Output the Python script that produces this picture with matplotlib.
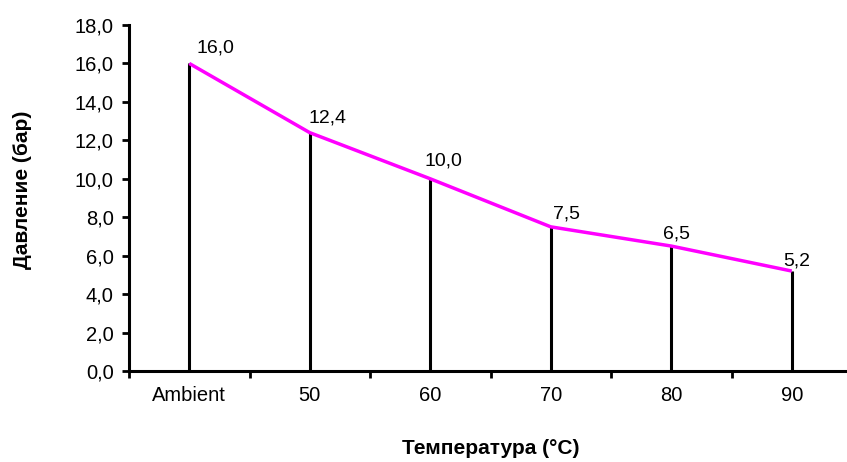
import numpy as np
import matplotlib.pyplot as plt

plt.rcParams['font.family'] = ['Liberation Sans', 'DejaVu Sans']

# данные
categories = ['Ambient', '50', '60', '70', '80', '90']
pressure = [16.0, 12.4, 10.0, 7.5, 6.5, 5.2]
y_ticks = [0, 2, 4, 6, 8, 10, 12, 14, 16, 18]

# сдвиг подписей значений (пиксели)
label_shift = [(7, 11), (-1, 10), (-6, 13), (2, 8), (-8, 8), (-9, 6)]

fig = plt.figure(figsize=(8.47, 4.62), dpi=100)
ax = fig.add_axes([129 / 847, 1 - 371 / 462, (852 - 129) / 847, (371 - 25) / 462])

x = np.arange(len(categories))

# вертикальные линии до оси
ax.vlines(x, 0, pressure, colors='black', linewidth=2.2, zorder=2)
ax.plot(x, pressure, color='#FF00FF', linewidth=2.5, zorder=3, solid_capstyle='butt')

for xi, v, (dx, dy) in zip(x, pressure, label_shift):
    ax.annotate(f'{v:.1f}'.replace('.', ','), (xi, v), xytext=(dx * 0.72, dy * 0.72),
                textcoords='offset points', ha='left', va='baseline', fontsize=14)

ax.set_xlim(-0.5, len(categories) - 0.5)
ax.set_ylim(0, 18)
ax.set_yticks(y_ticks)
ax.set_yticklabels([f'{t:.1f}'.replace('.', ',') for t in y_ticks], fontsize=14.5)

# метки категорий без засечек, засечки на границах
ax.set_xticks(np.arange(-0.5, len(categories), 1))
ax.set_xticklabels([])
ax.set_xticks(x, minor=True)
ax.set_xticklabels(categories, minor=True, fontsize=14.5)
ax.tick_params(axis='x', which='minor', length=0, pad=11)
ax.tick_params(axis='x', which='major', length=5, width=2, direction='out')
ax.tick_params(axis='y', length=5, width=2, direction='out', pad=6)

for s in ['top', 'right']:
    ax.spines[s].set_visible(False)
for s in ['left', 'bottom']:
    ax.spines[s].set_linewidth(2.2)
ax.spines['bottom'].set_zorder(4)

fig.text(491 / 847, 1 - 448 / 462, 'Температура (°C)', ha='center', va='center',
         fontsize=15, fontweight='bold')
fig.text(22 / 847, 1 - 190 / 462, 'Давление (бар)', ha='center', va='center',
         rotation=90, fontsize=15, fontweight='bold')

fig.savefig('out.png', dpi=100)
